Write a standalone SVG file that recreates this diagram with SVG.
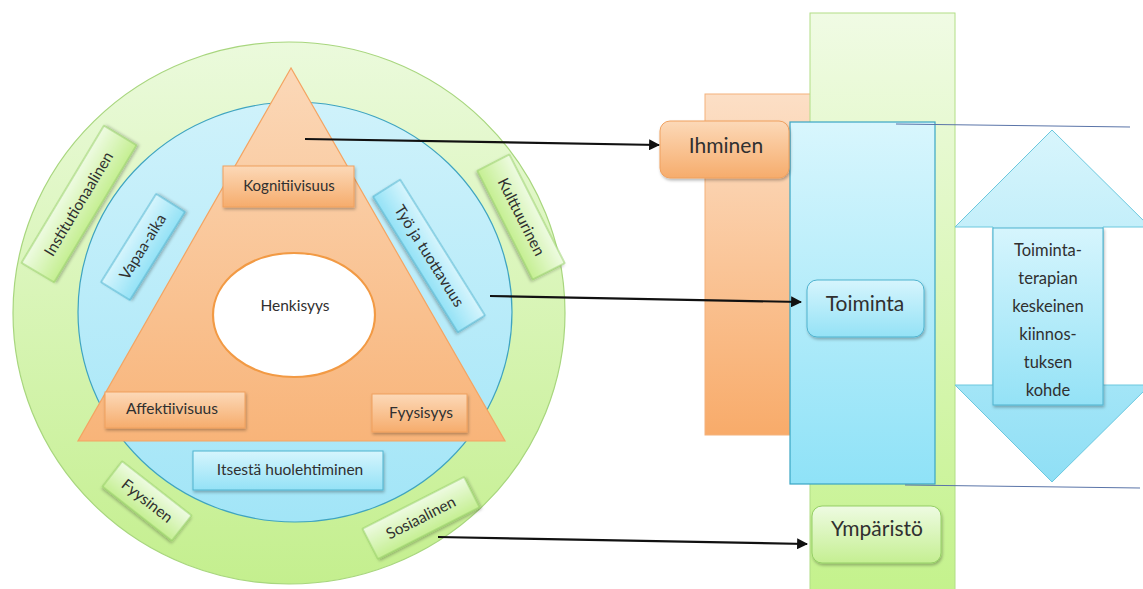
<svg xmlns="http://www.w3.org/2000/svg" width="1143" height="589" viewBox="0 0 1143 589">
<defs>
  <linearGradient id="gRing" x1="0" y1="0" x2="0" y2="1"><stop offset="0" stop-color="#ebfadc"/><stop offset="1" stop-color="#c4ef8e"/></linearGradient>
  <linearGradient id="bRing" x1="0" y1="0" x2="0" y2="1"><stop offset="0" stop-color="#cff2fb"/><stop offset="1" stop-color="#a2e5f7"/></linearGradient>
  <linearGradient id="tri" x1="0" y1="0" x2="0" y2="1"><stop offset="0" stop-color="#fbd8b8"/><stop offset="1" stop-color="#f8b479"/></linearGradient>
  <linearGradient id="oBox" x1="0" y1="0" x2="0" y2="1"><stop offset="0" stop-color="#fcd9b8"/><stop offset="1" stop-color="#f6ac6c"/></linearGradient>
  <linearGradient id="bBox" x1="0" y1="0" x2="0" y2="1"><stop offset="0" stop-color="#d6f5fd"/><stop offset="1" stop-color="#94e2f6"/></linearGradient>
  <linearGradient id="gBox" x1="0" y1="0" x2="0" y2="1"><stop offset="0" stop-color="#eefbe2"/><stop offset="1" stop-color="#c5ef92"/></linearGradient>
  <linearGradient id="oCol" x1="0" y1="0" x2="0" y2="1"><stop offset="0" stop-color="#fcdfc6"/><stop offset="1" stop-color="#f8ab6a"/></linearGradient>
  <linearGradient id="gCol" x1="0" y1="0" x2="0" y2="1"><stop offset="0" stop-color="#f0fbe4"/><stop offset="1" stop-color="#c4f28c"/></linearGradient>
  <linearGradient id="bCol" x1="0" y1="0" x2="0" y2="1"><stop offset="0" stop-color="#d8f6fd"/><stop offset="1" stop-color="#8fe2f7"/></linearGradient>
  <linearGradient id="arr" x1="0" y1="0" x2="0" y2="1"><stop offset="0" stop-color="#d8f5fc"/><stop offset="1" stop-color="#8fdff5"/></linearGradient>
  <filter id="sh" x="-20%" y="-20%" width="140%" height="150%"><feDropShadow dx="1" dy="2" stdDeviation="1.5" flood-color="#000" flood-opacity="0.28"/></filter>
  <marker id="ah" viewBox="0 0 10 10" refX="9" refY="5" markerWidth="5" markerHeight="5" orient="auto"><path d="M0,0 L10,5 L0,10 z" fill="#111"/></marker>
  <style>
    text{font-family:Lato,"Open Sans","Liberation Sans",sans-serif;fill:#303030;text-anchor:middle}
    .s{font-size:15px}
    .m{font-size:15.5px}
    .l{font-size:21px}
    .t{font-size:16.5px}
    .ob{fill:url(#oBox);stroke:#efa05f;stroke-width:1;filter:url(#sh)}
    .bb{fill:url(#bBox);stroke:#4fb3cf;stroke-width:1;filter:url(#sh)}
    .gb{fill:url(#gBox);stroke:#95cf66;stroke-width:1;filter:url(#sh)}
    .con{stroke:#111;stroke-width:2.2;fill:none;marker-end:url(#ah)}
  </style>
</defs>

<g id="ring-outer"><ellipse cx="289" cy="313" rx="276" ry="271" fill="url(#gRing)" stroke="#a8d67e" stroke-width="1.2"/></g>
<g id="ring-inner"><ellipse cx="295" cy="312" rx="217" ry="210" fill="url(#bRing)" stroke="#3fa4c0" stroke-width="1.2"/></g>
<g id="triangle"><polygon points="291,68 78,441 505,441" fill="url(#tri)" stroke="#f4a462" stroke-width="1.2"/></g>
<g id="henkisyys">
  <ellipse cx="294" cy="315" rx="81" ry="62" fill="#fff" stroke="#f29a44" stroke-width="2.2"/>
  <text class="m" x="295" y="311">Henkisyys</text>
</g>

<g id="kognitiivisuus"><rect class="ob" x="223" y="166" width="131" height="41"/><text class="s" x="289" y="191">Kognitiivisuus</text></g>
<g id="affektiivisuus"><rect class="ob" x="105" y="392" width="140" height="36"/><text class="m" x="172" y="414">Affektiivisuus</text></g>
<g id="fyysisyys"><rect class="ob" x="372" y="394" width="95" height="38"/><text class="m" x="421" y="418">Fyysisyys</text></g>
<g id="itsesta"><rect class="bb" x="193" y="451" width="190" height="39"/><text class="m" x="290" y="475">Itsestä huolehtiminen</text></g>

<g id="vapaa-aika" transform="translate(143,247) rotate(-58)"><rect class="bb" x="-52" y="-17" width="104" height="34"/><text class="m" x="0" y="5">Vapaa-aika</text></g>
<g id="tyo" transform="translate(429,256) rotate(58)"><rect class="bb" x="-80" y="-16" width="160" height="32"/><text class="m" x="0" y="5">Työ ja tuottavuus</text></g>
<g id="institutionaalinen" transform="translate(79,204) rotate(-59)"><rect class="gb" x="-80" y="-19" width="160" height="38"/><text class="m" x="0" y="5">Institutionaalinen</text></g>
<g id="kulttuurinen" transform="translate(521,217) rotate(63)"><rect class="gb" x="-61" y="-18" width="122" height="36"/><text class="m" x="0" y="5">Kulttuurinen</text></g>
<g id="fyysinen" transform="translate(147,501) rotate(38)"><rect class="gb" x="-44" y="-16" width="88" height="32"/><text class="m" x="0" y="5">Fyysinen</text></g>
<g id="sosiaalinen" transform="translate(421,518) rotate(-27)"><rect class="gb" x="-57" y="-17" width="114" height="34"/><text class="m" x="0" y="5">Sosiaalinen</text></g>

<g id="columns">
  <rect x="705" y="94" width="110" height="341" fill="url(#oCol)" stroke="#f4b27c" stroke-width="1"/>
  <rect x="810" y="13" width="145" height="580" fill="url(#gCol)" stroke="#b2de86" stroke-width="1"/>
  <rect x="790" y="122" width="145" height="362" fill="url(#bCol)" stroke="#3aa6c3" stroke-width="1.2"/>
</g>
<g id="ihminen"><rect class="ob" x="660" y="121" width="129" height="57" rx="10"/><text class="l" x="726" y="153">Ihminen</text></g>
<g id="toiminta"><rect class="bb" x="807" y="280" width="117" height="57" rx="10"/><text class="l" x="865" y="311">Toiminta</text></g>
<g id="ymparisto"><rect class="gb" x="812" y="506" width="129" height="57" rx="10"/><text class="l" x="877" y="536">Ympäristö</text></g>

<g id="guides" stroke="#5a74a8" stroke-width="1" fill="none">
  <line x1="896" y1="124" x2="1130" y2="127"/>
  <line x1="905" y1="485" x2="1140" y2="488"/>
</g>
<g id="double-arrow">
  <polygon points="1052,130 1150,227 1103,227 1103,385 1150,385 1052,482 955,385 993,385 993,227 955,227" fill="url(#arr)" stroke="#6cc8de" stroke-width="1"/>
  <rect class="bb" x="993" y="228" width="110" height="177"/>
  <text class="t" x="1048" y="256">Toiminta-</text>
  <text class="t" x="1048" y="284">terapian</text>
  <text class="t" x="1048" y="312">keskeinen</text>
  <text class="t" x="1048" y="340">kiinnos-</text>
  <text class="t" x="1048" y="368">tuksen</text>
  <text class="t" x="1048" y="396">kohde</text>
</g>

<g id="connectors">
  <line class="con" x1="305" y1="139" x2="659" y2="145"/>
  <line class="con" x1="490" y1="296" x2="801" y2="302"/>
  <line class="con" x1="438" y1="537" x2="807" y2="544"/>
</g>
</svg>
